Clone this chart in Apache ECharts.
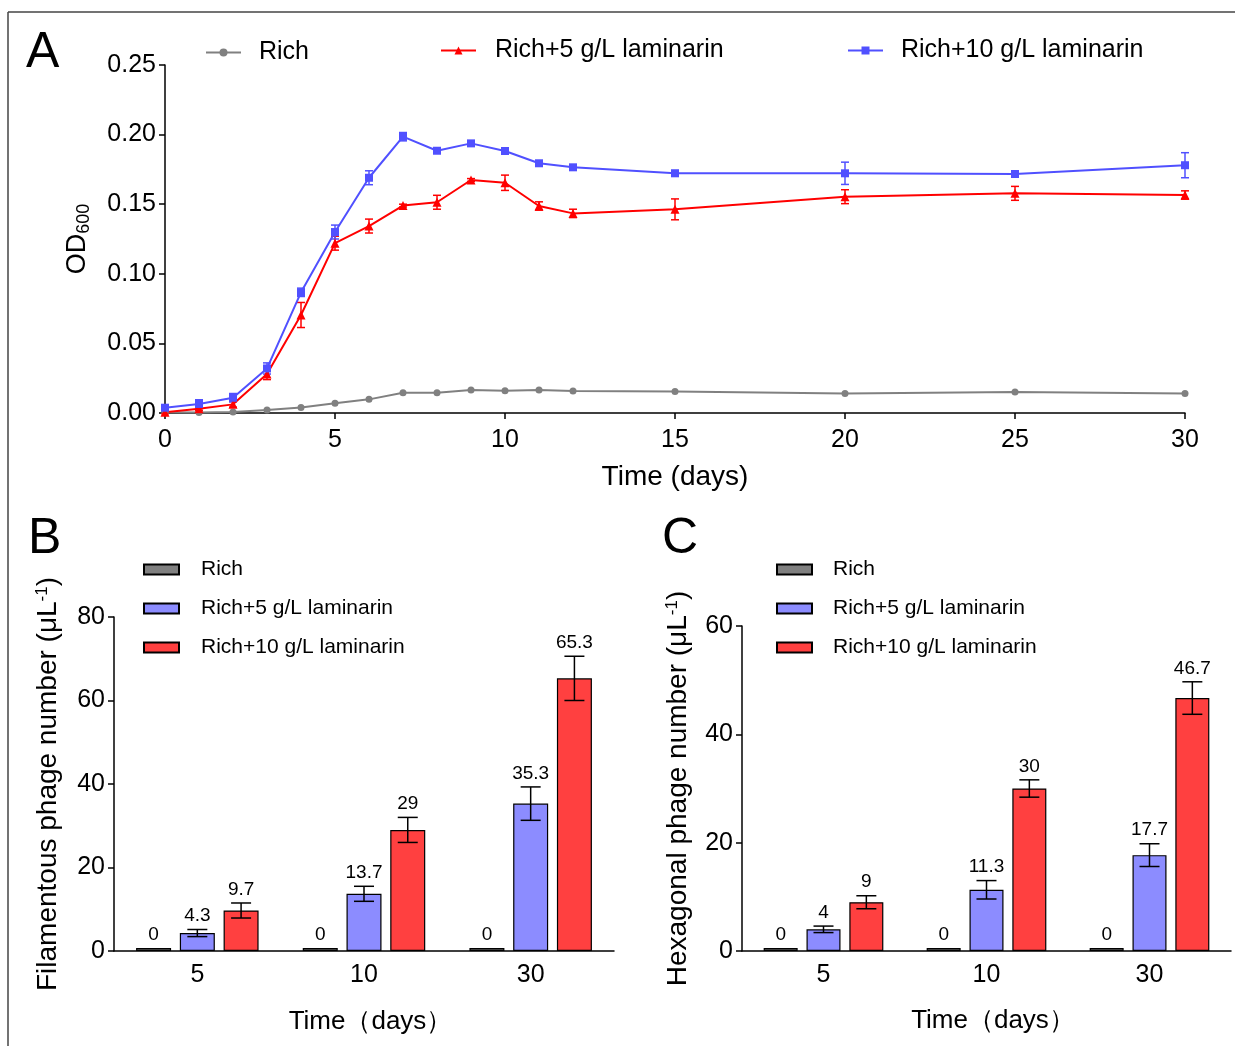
<!DOCTYPE html>
<html>
<head>
<meta charset="utf-8">
<script src="https://cdn.jsdelivr.net/npm/echarts@6/dist/echarts.min.js"></script>
<style>
  html, body { margin: 0; padding: 0; background: #fff; }
  #main { width: 1235px; height: 1046px; }
</style>
</head>
<body>
<div id="main"></div>
<script>
  // panel A: OD600 over time
  var dayA = [0, 1, 2, 3, 4, 5, 6, 7, 8, 9, 10, 11, 12, 15, 20, 25, 30];
  var richOD = [0.0005, 0.0003, 0.0008, 0.0022, 0.004, 0.007, 0.0098, 0.0146, 0.0146, 0.0165, 0.016, 0.0165, 0.0158, 0.0155, 0.014, 0.015, 0.014];
  var lam5OD = [0.0005, 0.003, 0.0062, 0.028, 0.0704, 0.122, 0.1343, 0.149, 0.1514, 0.1674, 0.1654, 0.1487, 0.1434, 0.1463, 0.1554, 0.1578, 0.1566];
  var lam5Err = [0.001, 0.001, 0.002, 0.004, 0.009, 0.005, 0.005, 0.001, 0.005, 0.001, 0.0055, 0.003, 0.003, 0.0075, 0.005, 0.005, 0.003];
  var lam10OD = [0.0038, 0.0065, 0.011, 0.032, 0.0867, 0.13, 0.169, 0.1985, 0.1884, 0.1937, 0.1882, 0.1794, 0.1765, 0.1722, 0.1722, 0.1717, 0.178];
  var lam10Err = [0.001, 0.003, 0.003, 0.004, 0.003, 0.005, 0.005, 0.003, 0.001, 0.001, 0.002, 0.001, 0.001, 0.002, 0.008, 0.001, 0.009];

  // panels B and C: phage numbers
  var timeCats = ['5', '10', '30'];
  var filRich = [0, 0, 0];
  var filLam5 = [4.3, 13.7, 35.3];
  var filLam5Err = [0.85, 1.8, 4];
  var filLam10 = [9.7, 29, 65.3];
  var filLam10Err = [1.8, 3, 5.3];
  var hexRich = [0, 0, 0];
  var hexLam5 = [4, 11.3, 17.7];
  var hexLam5Err = [0.6, 1.7, 2.1];
  var hexLam10 = [9, 30, 46.7];
  var hexLam10Err = [1.2, 1.6, 3];

  var FONT = 'Liberation Sans, Arial, sans-serif';
  var GRAY = '#808080', RED = '#ff0000', BLUE = '#5050ff';
  var BAR_GRAY = '#808080', BAR_BLUE = '#8c8cff', BAR_RED = '#ff4040';

  function pairs(xs, ys, es) {
    return xs.map(function (x, i) { return es ? [x, ys[i], es[i]] : [x, ys[i]]; });
  }

  function lineErr(color) {
    return function (params, api) {
      var x = api.value(0), y = api.value(1), e = api.value(2);
      var hi = api.coord([x, y + e]), lo = api.coord([x, y - e]);
      var st = { stroke: color, lineWidth: 1.5 };
      return {
        type: 'group',
        children: [
          { type: 'line', shape: { x1: hi[0], y1: hi[1], x2: lo[0], y2: lo[1] }, style: st },
          { type: 'line', shape: { x1: hi[0] - 4, y1: hi[1], x2: hi[0] + 4, y2: hi[1] }, style: st },
          { type: 'line', shape: { x1: lo[0] - 4, y1: lo[1], x2: lo[0] + 4, y2: lo[1] }, style: st }
        ]
      };
    };
  }

  function barErr(offset) {
    return function (params, api) {
      var i = api.value(0), v = api.value(1), e = api.value(2);
      var base = api.coord([i, v]);
      var cx = base[0] + offset;
      var st = { stroke: '#000', lineWidth: 1.5 };
      var kids = [];
      var top = base[1] - 3;
      if (e > 0) {
        var hi = api.coord([i, v + e])[1], lo = api.coord([i, v - e])[1];
        kids.push({ type: 'line', shape: { x1: cx, y1: hi, x2: cx, y2: lo }, style: st });
        kids.push({ type: 'line', shape: { x1: cx - 10, y1: hi, x2: cx + 10, y2: hi }, style: st });
        kids.push({ type: 'line', shape: { x1: cx - 10, y1: lo, x2: cx + 10, y2: lo }, style: st });
        top = hi;
      }
      kids.push({
        type: 'text',
        style: { text: String(v), x: cx, y: top - 4, align: 'center', verticalAlign: 'bottom',
          fontSize: 19, fontFamily: FONT, fill: '#000' }
      });
      return { type: 'group', children: kids };
    };
  }

  var axisLine = { lineStyle: { color: '#000', width: 1.5 } };
  var axisTick = { inside: false, length: 6, lineStyle: { color: '#000', width: 1.5 } };
  var yLine = { show: true, lineStyle: { color: '#000', width: 1.5 } };
  var yTick = { show: true, length: 6, lineStyle: { color: '#000', width: 1.5 } };
  var catTick = { alignWithLabel: true, length: 6, lineStyle: { color: '#000', width: 1.5 } };

  var option = {
    animation: false,
    backgroundColor: '#fff',
    textStyle: { fontFamily: FONT },
    graphic: [
      { type: 'line', shape: { x1: 8, y1: 12, x2: 1235, y2: 12 }, style: { stroke: '#444', lineWidth: 1.5 } },
      { type: 'line', shape: { x1: 8, y1: 12, x2: 8, y2: 1046 }, style: { stroke: '#444', lineWidth: 1.5 } },
      { type: 'text', left: 26, top: 28, style: { text: 'A', fontSize: 50, fontFamily: FONT, fill: '#000' } },
      { type: 'text', left: 28, top: 514, style: { text: 'B', fontSize: 50, fontFamily: FONT, fill: '#000' } },
      { type: 'text', left: 662, top: 514, style: { text: 'C', fontSize: 50, fontFamily: FONT, fill: '#000' } }
    ],
    legend: [
      { data: ['Rich'], left: 205, top: 40, padding: 0, itemWidth: 35, itemHeight: 10,
        textStyle: { fontSize: 25, fontFamily: FONT, color: '#000', padding: [0, 0, 0, 13] } },
      { data: ['Rich+5 g/L laminarin'], left: 440, top: 38, padding: 0, itemWidth: 35, itemHeight: 10,
        textStyle: { fontSize: 25, fontFamily: FONT, color: '#000', padding: [0, 0, 0, 14] } },
      { data: ['Rich+10 g/L laminarin'], left: 847, top: 38, padding: 0, itemWidth: 35, itemHeight: 10,
        textStyle: { fontSize: 25, fontFamily: FONT, color: '#000', padding: [0, 0, 0, 13] } },
      { data: ['Rich ', 'Rich+5 g/L laminarin ', 'Rich+10 g/L laminarin '], orient: 'vertical',
        left: 143, top: 559, padding: 0, itemWidth: 35, itemHeight: 10, itemGap: 18, icon: 'rect',
        formatter: function (n) { return n.trim(); },
        textStyle: { fontSize: 21, fontFamily: FONT, color: '#000', padding: [0, 0, 0, 17] } },
      { data: ['Rich  ', 'Rich+5 g/L laminarin  ', 'Rich+10 g/L laminarin  '], orient: 'vertical',
        left: 776, top: 559, padding: 0, itemWidth: 35, itemHeight: 10, itemGap: 18, icon: 'rect',
        formatter: function (n) { return n.trim(); },
        textStyle: { fontSize: 21, fontFamily: FONT, color: '#000', padding: [0, 0, 0, 16] } }
    ],
    grid: [
      { left: 165, right: 50, top: 65, height: 348 },
      { left: 114, width: 500, top: 617, height: 334 },
      { left: 742, width: 489, top: 626, height: 325 }
    ],
    xAxis: [
      { type: 'value', gridIndex: 0, min: 0, max: 30, interval: 5,
        name: 'Time (days)', nameLocation: 'middle', nameGap: 50,
        nameTextStyle: { fontSize: 28, color: '#000', fontFamily: FONT },
        axisLine: axisLine, axisTick: axisTick, splitLine: { show: false },
        axisLabel: { fontSize: 25, color: '#000', margin: 15, fontFamily: FONT } },
      { type: 'category', gridIndex: 1, data: timeCats,
        name: 'Time（days）', nameLocation: 'middle', nameGap: 58,
        nameTextStyle: { fontSize: 26, color: '#000', fontFamily: FONT, padding: [0, 0, 0, 13] },
        axisLine: axisLine, axisTick: catTick,
        axisLabel: { fontSize: 25, color: '#000', margin: 12, fontFamily: FONT } },
      { type: 'category', gridIndex: 2, data: timeCats,
        name: 'Time（days）', nameLocation: 'middle', nameGap: 57,
        nameTextStyle: { fontSize: 26, color: '#000', fontFamily: FONT, padding: [0, 0, 0, 13] },
        axisLine: axisLine, axisTick: catTick,
        axisLabel: { fontSize: 25, color: '#000', margin: 12, fontFamily: FONT } }
    ],
    yAxis: [
      { type: 'value', gridIndex: 0, min: 0, max: 0.25, interval: 0.05,
        name: 'OD{sub|600}', nameLocation: 'middle', nameGap: 72,
        nameTextStyle: { fontSize: 27, color: '#000', fontFamily: FONT,
          rich: { sub: { fontSize: 18, fontFamily: FONT, color: '#000', verticalAlign: 'bottom', padding: [12, 0, 0, 0] } } },
        axisLine: yLine, axisTick: yTick, splitLine: { show: false },
        axisLabel: { fontSize: 25, color: '#000', margin: 9, fontFamily: FONT,
          formatter: function (v) { return v.toFixed(2); } } },
      { type: 'value', gridIndex: 1, min: 0, max: 80, interval: 20,
        name: 'Filamentous phage number (μL{sup|-1})', nameLocation: 'middle', nameGap: 51,
        nameTextStyle: { fontSize: 28, color: '#000', fontFamily: FONT,
          rich: { sup: { fontSize: 17, fontFamily: FONT, color: '#000', verticalAlign: 'top', padding: [0, 0, 12, 0] } } },
        axisLine: yLine, axisTick: yTick, splitLine: { show: false },
        axisLabel: { fontSize: 25, color: '#000', margin: 9, fontFamily: FONT } },
      { type: 'value', gridIndex: 2, min: 0, max: 60, interval: 20,
        name: 'Hexagonal phage number (μL{sup|-1})', nameLocation: 'middle', nameGap: 49,
        nameTextStyle: { fontSize: 28, color: '#000', fontFamily: FONT,
          rich: { sup: { fontSize: 17, fontFamily: FONT, color: '#000', verticalAlign: 'top', padding: [0, 0, 12, 0] } } },
        axisLine: yLine, axisTick: yTick, splitLine: { show: false },
        axisLabel: { fontSize: 25, color: '#000', margin: 9, fontFamily: FONT } }
    ],
    series: [
      { name: 'Rich', type: 'line', xAxisIndex: 0, yAxisIndex: 0, data: pairs(dayA, richOD),
        symbol: 'circle', symbolSize: 7, color: GRAY, lineStyle: { width: 2, color: GRAY } },
      { name: 'Rich+5 g/L laminarin', type: 'line', xAxisIndex: 0, yAxisIndex: 0, data: pairs(dayA, lam5OD),
        symbol: 'triangle', symbolSize: 9, color: RED, lineStyle: { width: 2, color: RED } },
      { name: 'Rich+10 g/L laminarin', type: 'line', xAxisIndex: 0, yAxisIndex: 0, data: pairs(dayA, lam10OD),
        symbol: 'rect', symbolSize: 8, color: BLUE, lineStyle: { width: 2, color: BLUE } },
      { type: 'custom', xAxisIndex: 0, yAxisIndex: 0, data: pairs(dayA, lam5OD, lam5Err),
        encode: { x: 0, y: 1 }, renderItem: lineErr(RED), silent: true },
      { type: 'custom', xAxisIndex: 0, yAxisIndex: 0, data: pairs(dayA, lam10OD, lam10Err),
        encode: { x: 0, y: 1 }, renderItem: lineErr(BLUE), silent: true },

      { name: 'Rich ', type: 'bar', xAxisIndex: 1, yAxisIndex: 1, data: filRich, barWidth: 35, barGap: '25%',
        barMinHeight: 3, itemStyle: { color: BAR_GRAY, borderColor: '#000', borderWidth: 1.2 } },
      { name: 'Rich+5 g/L laminarin ', type: 'bar', xAxisIndex: 1, yAxisIndex: 1, data: filLam5, barWidth: 35, barGap: '25%',
        itemStyle: { color: BAR_BLUE, borderColor: '#000', borderWidth: 1.2 } },
      { name: 'Rich+10 g/L laminarin ', type: 'bar', xAxisIndex: 1, yAxisIndex: 1, data: filLam10, barWidth: 35, barGap: '25%',
        itemStyle: { color: BAR_RED, borderColor: '#000', borderWidth: 1.2 } },
      { type: 'custom', xAxisIndex: 1, yAxisIndex: 1, encode: { x: 0, y: 1 }, z: 5, silent: true,
        data: filRich.map(function (v, i) { return [i, v, 0]; }), renderItem: barErr(-43.75) },
      { type: 'custom', xAxisIndex: 1, yAxisIndex: 1, encode: { x: 0, y: 1 }, z: 5, silent: true,
        data: filLam5.map(function (v, i) { return [i, v, filLam5Err[i]]; }), renderItem: barErr(0) },
      { type: 'custom', xAxisIndex: 1, yAxisIndex: 1, encode: { x: 0, y: 1 }, z: 5, silent: true,
        data: filLam10.map(function (v, i) { return [i, v, filLam10Err[i]]; }), renderItem: barErr(43.75) },

      { name: 'Rich  ', type: 'bar', xAxisIndex: 2, yAxisIndex: 2, data: hexRich, barWidth: 34, barGap: '26%',
        barMinHeight: 3, itemStyle: { color: BAR_GRAY, borderColor: '#000', borderWidth: 1.2 } },
      { name: 'Rich+5 g/L laminarin  ', type: 'bar', xAxisIndex: 2, yAxisIndex: 2, data: hexLam5, barWidth: 34, barGap: '26%',
        itemStyle: { color: BAR_BLUE, borderColor: '#000', borderWidth: 1.2 } },
      { name: 'Rich+10 g/L laminarin  ', type: 'bar', xAxisIndex: 2, yAxisIndex: 2, data: hexLam10, barWidth: 34, barGap: '26%',
        itemStyle: { color: BAR_RED, borderColor: '#000', borderWidth: 1.2 } },
      { type: 'custom', xAxisIndex: 2, yAxisIndex: 2, encode: { x: 0, y: 1 }, z: 5, silent: true,
        data: hexRich.map(function (v, i) { return [i, v, 0]; }), renderItem: barErr(-42.84) },
      { type: 'custom', xAxisIndex: 2, yAxisIndex: 2, encode: { x: 0, y: 1 }, z: 5, silent: true,
        data: hexLam5.map(function (v, i) { return [i, v, hexLam5Err[i]]; }), renderItem: barErr(0) },
      { type: 'custom', xAxisIndex: 2, yAxisIndex: 2, encode: { x: 0, y: 1 }, z: 5, silent: true,
        data: hexLam10.map(function (v, i) { return [i, v, hexLam10Err[i]]; }), renderItem: barErr(42.84) }
    ]
  };

  var chart = echarts.init(document.getElementById('main'), null, { renderer: 'canvas' });
  chart.setOption(option);
</script>
</body>
</html>
